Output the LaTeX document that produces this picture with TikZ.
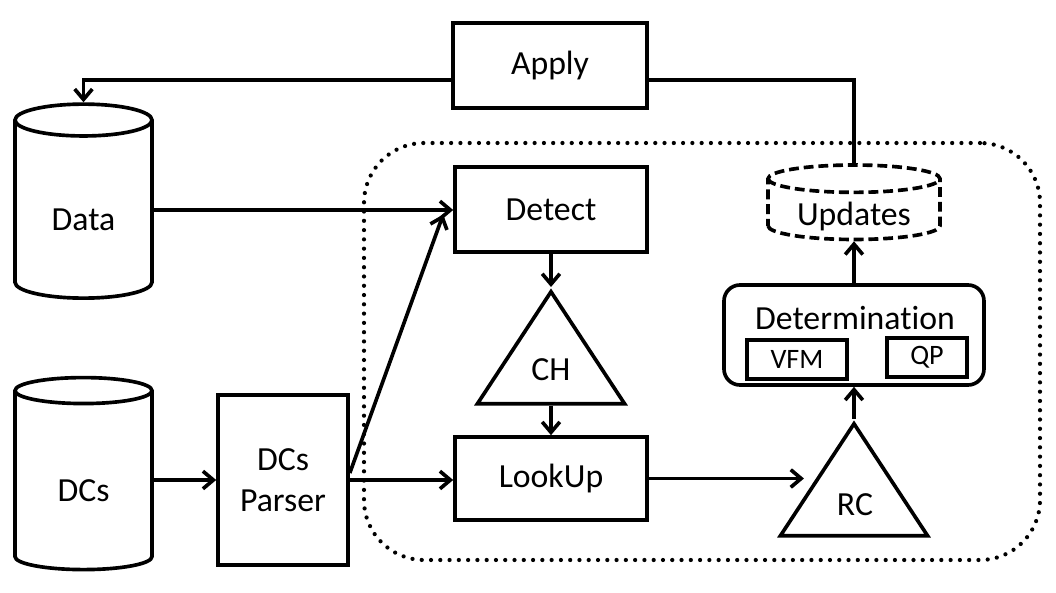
\documentclass[tikz,border=0pt]{standalone}
\usepackage{fontspec}
\setmainfont{Carlito}[Ligatures=NoCommon]
\usetikzlibrary{shapes.geometric,arrows.meta}

\begin{document}
\begin{tikzpicture}[line width=2.6pt, font=\fontsize{24}{29}\selectfont,
  box/.style={draw, rectangle, inner sep=0pt},
  db/.style={draw, cylinder, shape border rotate=90, aspect=0.5, inner sep=0pt,
    minimum width=3.425cm, minimum height=4.85cm, text height=29.7pt, text depth=0pt},
  tri/.style={draw, isosceles triangle, shape border rotate=90,
    isosceles triangle stretches, inner sep=0pt, minimum width=3.68cm, minimum height=2.8cm},
  arr/.style={-{Straight Barb[length=2.6mm,width=4.4mm]}},
  small/.style={font=\fontsize{20}{24}\selectfont}]
  \useasboundingbox (0,0) rectangle (26.4,14.8);

  \node [draw, rounded corners=1.5cm, dash pattern=on 0pt off 6.6pt, line cap=round,
    line width=3pt, minimum width=16.9cm, minimum height=10.425cm] (cmp) at (17.55,6.0125) {};

  \node [db] (dat) at (2.0875,9.55) {Data};
  \node [db, minimum height=4.8cm] (dcs) at (2.0875,2.775) {DCs};
  \node [box, minimum width=3.25cm, minimum height=4.25cm, align=center] (par) at (7.075,2.8) {DCs\\Parser};
  \node [box, minimum width=4.85cm, minimum height=2.125cm] (app) at (13.75,13.1625) {Apply};
  \node [box, minimum width=4.8cm, minimum height=2.125cm] (det) at (13.775,9.5625) {Detect};
  \node [box, minimum width=4.8cm, minimum height=2.075cm] (lku) at (13.775,2.8375) {LookUp};
  \node [tri, anchor=apex] (ch) at (13.775,7.625) {};
  \node (chl) at (13.775,5.55) {CH};
  \node [tri, anchor=apex] (rc) at (21.35,4.325) {};
  \node (rcl) at (21.375,2.175) {RC};
  \node [box, rounded corners=0.4cm, minimum width=6.5cm, minimum height=2.5cm] (dtm) at (21.35,6.425) {};
  \node (dtml) at (21.375,6.85) {Determination};
  \node [box, small, minimum width=2.5cm, minimum height=0.975cm] (vfm) at (19.925,5.8125) {VFM};
  \node [box, small, minimum width=2cm, minimum height=0.975cm] (qp) at (23.175,5.8625) {QP};
  \node [db, dash pattern=on 7pt off 3.5pt, aspect=0.24, minimum width=4.3cm, minimum height=1.85cm,
    text height=22.5pt] (upd) at (21.35,9.55) {Updates};

  \draw [arr] ([yshift=-0.3625cm]app.west) -| (dat.north);
  \draw (upd.north) |- ([yshift=-0.3625cm]app.east);
  \draw [arr] (dat.east) -- (dat.east -| det.west);
  \draw [arr] ([yshift=0.175cm]par.east) -- ([xshift=-0.25cm,yshift=-0.125cm]det.west);
  \draw [arr] (par.east) -- (par.east -| lku.west);
  \draw [arr] (par.west -| dcs.east) -- (par.west);
  \draw [arr] (det.south) -- (ch.apex);
  \draw [arr] (ch.lower side) -- (lku.north);
  \draw [arr] (lku.east) -- (lku.east -| rc.west);
  \draw [arr] (rc.apex) -- (dtm.south);
  \draw [arr] (dtm.north) -- (upd.south);
\end{tikzpicture}
\end{document}
